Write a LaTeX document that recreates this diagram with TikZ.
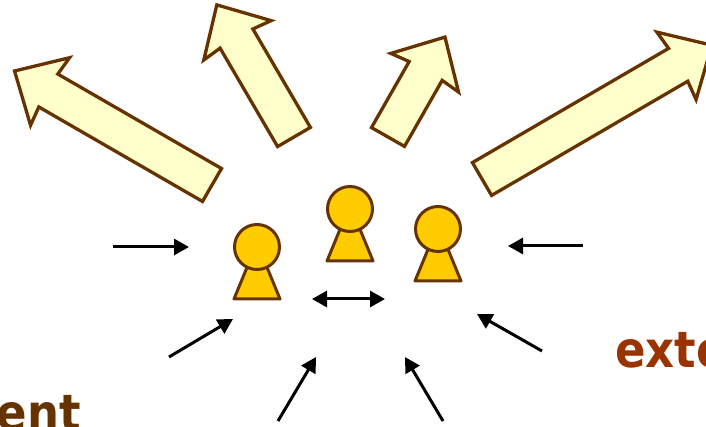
\documentclass[tikz,border=0pt]{standalone}
\usepackage{fontspec}
\usepackage{tikz}
\usetikzlibrary{arrows.meta}
\newfontfamily\labelfont{DejaVu Sans}[FakeStretch=0.9]
\definecolor{darkbrown}{HTML}{663300}
\definecolor{rust}{HTML}{993300}
\definecolor{paleyellow}{HTML}{FFFFCC}
\definecolor{gold}{HTML}{FFCC00}
\tikzset{
  bigarr/.style={draw=darkbrown, fill=paleyellow, line width=3.3pt, line join=miter},
  body/.style={draw=darkbrown, fill=gold, line width=3pt, line join=round},
  head/.style={circle, draw=darkbrown, fill=gold, line width=3pt, minimum size=45pt, inner sep=0pt},
  inarr/.style={-{Triangle[length=15pt,width=16pt]}, line width=3pt},
  word/.style={font=\labelfont\bfseries\fontsize{50}{50}\selectfont, inner sep=0pt}
}
% outward arrow: tail centre, angle, length
\newcommand\outarrow[3]{%
  \draw[bigarr, shift={(#1)}, rotate=#2]
    (0,-19) -- (#3-39,-19) -- (#3-41,-39) -- (#3,0) -- (#3-41,39) -- (#3-39,19) -- (0,19) -- cycle;}
\begin{document}
\begin{tikzpicture}[x=1pt, y=-1pt]
  \useasboundingbox (0,0) rectangle (706,427);
  \clip (0,0) rectangle (706,427);

  % Outward arrows
  \outarrow{212,185}{150}{228}
  \outarrow{294,137}{120.3}{153}
  \outarrow{388,137}{60.3}{115}
  \outarrow{482,179}{30.2}{266}

  % People
  \coordinate (pL) at (257,247);
  \coordinate (pM) at (350,209);
  \coordinate (pR) at (438,229);
  \foreach \p in {pL,pM,pR}
    \draw[body] (\p) ++(0,-4) -- ++(-23,56) -- ++(46,0) -- cycle;
  \node[head] (hL) at (pL) {};
  \node[head] (hM) at (pM) {};
  \node[head] (hR) at (pR) {};

  % Inward arrows
  \coordinate (inW) at (113,247);   \coordinate (tipW) at (189,247);
  \coordinate (inE) at (583,246);   \coordinate (tipE) at (508,246);
  \coordinate (inSW) at (169,357);  \coordinate (tipSW) at (233,319);
  \coordinate (inSE) at (542,351);  \coordinate (tipSE) at (477,314);
  \coordinate (inS1) at (278,421);  \coordinate (tipS1) at (316,357);
  \coordinate (inS2) at (443,421);  \coordinate (tipS2) at (405,357);
  \draw[inarr] (inW) -- (tipW);
  \draw[inarr] (inE) -- (tipE);
  \draw[inarr] (inSW) -- (tipSW);
  \draw[inarr] (inSE) -- (tipSE);
  \draw[inarr] (inS1) -- (tipS1);
  \draw[inarr] (inS2) -- (tipS2);

  % Exchange between people
  \coordinate (exL) at (312,299);
  \coordinate (exR) at (385,299);
  \draw[inarr, {Triangle[length=15pt,width=16pt]}-{Triangle[length=15pt,width=16pt]}] (exL) -- (exR);

  % Labels
  \node[word, text=darkbrown, anchor=base east] (ent) at (81,430) {ent};
  \node[word, text=rust, anchor=base west] (ext) at (615,367) {exte};
\end{tikzpicture}
\end{document}
